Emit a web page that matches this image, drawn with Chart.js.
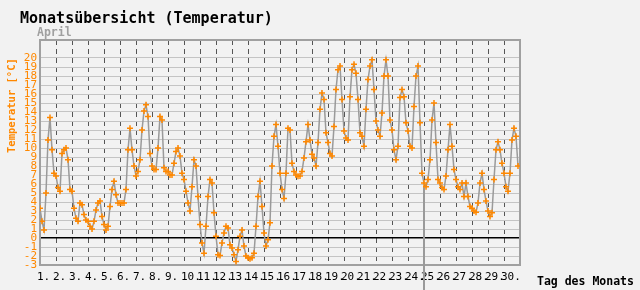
<!DOCTYPE html>
<html lang="de">
<head>
<meta charset="utf-8">
<title>Monatsübersicht (Temperatur)</title>
<script src="https://cdn.jsdelivr.net/npm/chart.js@4"></script>
<style>
  html, body { margin: 0; padding: 0; background: #f2f2f2; }
  canvas { display: block; }
</style>
</head>
<body>
<canvas id="chart" width="640" height="290"></canvas>
<script>
// Monatsübersicht Temperatur — Tagesgang für April, 8 Messwerte pro Tag (alle 3 h)

const TITLE = "Monatsübersicht (Temperatur)";
const MONTH = "April";
const Y_TITLE = "Temperatur [°C]";
const X_TITLE = "Tag des Monats";

const days = [1, 2, 3, 4, 5, 6, 7, 8, 9, 10, 11, 12, 13, 14, 15,
              16, 17, 18, 19, 20, 21, 22, 23, 24, 25, 26, 27, 28, 29, 30];
const dayLabels = days.map(d => d + ".");
const yLabels = [-3, -2, -1, 0, 1, 2, 3, 4, 5, 6, 7, 8, 9, 10,
                 11, 12, 13, 14, 15, 16, 17, 18, 19, 20];

const SAMPLES_PER_DAY = 8;
// °C, je Zeile ein Tag (0h, 3h, 6h, ... 21h)
const temps = [
  3.3, 1.85, 0.9, 5.0, 10.9, 13.4, 9.8, 7.2,      // 1.
  6.9, 5.6, 5.2, 9.4, 9.8, 10.0, 8.7, 5.4,        // 2.
  5.2, 3.3, 2.2, 1.85, 3.9, 3.7, 2.6, 2.0,        // 3.
  1.85, 1.3, 1.0, 1.85, 3.1, 3.9, 4.1, 2.4,       // 4.
  1.5, 0.9, 1.3, 3.5, 5.4, 6.3, 4.8, 3.9,         // 5.
  3.9, 3.9, 3.9, 5.4, 9.8, 12.2, 9.8, 8.0,        // 6.
  6.9, 7.4, 8.7, 12.0, 14.1, 14.8, 13.5, 9.4,     // 7.
  8.0, 7.6, 7.6, 10.0, 13.5, 13.1, 7.8, 7.4,      // 8.
  7.4, 7.0, 7.0, 8.3, 9.6, 10.0, 9.1, 7.2,        // 9.
  6.5, 5.2, 3.9, 3.0, 5.7, 8.7, 8.0, 4.6,         // 10.
  1.5, -0.55, -1.7, 1.3, 4.6, 6.5, 6.1, 2.8,      // 11.
  0.2, -1.85, -1.95, -0.55, 0.55, 1.3, 1.1, -0.75, // 12.
  -1.1, -1.85, -2.6, -1.3, 0.2, 0.9, -0.9, -2.0,  // 13.
  -2.2, -2.3, -2.2, -1.7, 1.3, 4.6, 6.3, 3.5,     // 14.
  0.55, -0.9, -0.2, 1.7, 8.0, 11.3, 12.6, 10.2,   // 15.
  7.2, 5.4, 4.4, 7.2, 12.2, 12.0, 8.3, 7.4,       // 16.
  7.0, 6.85, 6.9, 7.4, 8.9, 10.7, 12.6, 10.9,     // 17.
  9.3, 8.9, 8.0, 10.6, 14.3, 16.1, 15.4, 11.7,    // 18.
  10.6, 9.4, 9.1, 12.4, 16.5, 18.7, 19.1, 15.4,   // 19.
  11.9, 11.1, 10.9, 15.7, 18.7, 19.3, 18.3, 15.4, // 20.
  11.7, 11.3, 10.2, 14.3, 17.6, 19.1, 19.8, 16.5, // 21.
  13.0, 12.0, 11.3, 13.9, 18.0, 19.8, 18.0, 13.1, // 22.
  12.0, 9.8, 8.7, 10.2, 15.6, 16.5, 15.7, 12.8,   // 23.
  11.9, 10.2, 10.0, 14.6, 18.0, 19.1, 12.8, 7.2,  // 24.
  6.1, 5.7, 6.5, 8.7, 13.1, 15.0, 10.6, 6.5,      // 25.
  6.1, 5.6, 5.4, 6.9, 9.8, 12.6, 10.2, 7.6,       // 26.
  6.5, 5.7, 5.4, 6.1, 4.6, 6.1, 4.6, 3.5,         // 27.
  3.3, 3.0, 2.85, 3.9, 6.1, 7.2, 5.4, 4.1,        // 28.
  3.0, 2.4, 2.8, 6.5, 9.8, 10.7, 9.8, 8.3,        // 29.
  7.2, 5.7, 5.2, 7.2, 10.9, 12.2, 11.3, 8.0,      // 30.
];

// senkrechte Markierung am 25.
const markerDay = 25;
const markerTemps = [5.8, -6];

const ORANGE = "#ff8800";
const MONO = "'DejaVu Sans Mono', 'Liberation Mono', monospace";

const tempPoints = temps.map((t, i) => ({ x: days[0] + i / SAMPLES_PER_DAY, y: t }));
const markerPoints = markerTemps.map(t => ({ x: markerDay, y: t }));

// Rahmen um die Zeichenfläche
const frame = {
  id: "frame",
  beforeDatasetsDraw(chart) {
    const { ctx, chartArea: a } = chart;
    ctx.save();
    ctx.strokeStyle = "#a0a0a0";
    ctx.lineWidth = 2;
    ctx.strokeRect(a.left, a.top, a.right - a.left, a.bottom - a.top);
    ctx.restore();
  },
};

// Überschriften und Achsentitel
const headings = {
  id: "headings",
  afterDraw(chart) {
    const ctx = chart.ctx;
    ctx.save();
    ctx.textAlign = "left";
    ctx.textBaseline = "alphabetic";
    ctx.fillStyle = "#000";
    ctx.font = "bold 15px " + MONO;
    ctx.fillText(TITLE, 20, 23);
    ctx.fillStyle = "#a0a0a0";
    ctx.font = "bold 11.5px " + MONO;
    ctx.fillText(MONTH, 37, 36);
    ctx.fillStyle = "#000";
    ctx.fillText(X_TITLE, 537, 285);
    ctx.translate(15, 153);
    ctx.rotate(-Math.PI / 2);
    ctx.fillStyle = ORANGE;
    ctx.font = "bold 10.5px " + MONO;
    ctx.fillText(Y_TITLE, 0, 0);
    ctx.restore();
  },
};

new Chart(document.getElementById("chart"), {
  type: "line",
  data: {
    datasets: [
      {
        data: tempPoints,
        borderColor: "#9a9a9a",
        borderWidth: 1.5,
        pointStyle: "cross",
        pointRadius: 3,
        pointBorderColor: ORANGE,
        pointBorderWidth: 1.5,
        tension: 0,
      },
      {
        data: markerPoints,
        borderColor: "#9a9a9a",
        borderWidth: 2,
        pointRadius: 0,
        clip: false,
      },
    ],
  },
  options: {
    responsive: false,
    animation: false,
    events: [],
    layout: { padding: { left: 0, top: 40, right: 120, bottom: 0 } },
    plugins: { legend: { display: false }, tooltip: { enabled: false }, title: { display: false } },
    scales: {
      x: {
        type: "linear",
        min: days[0],
        max: days[days.length - 1] + 1,
        afterFit: s => { s.height = 25; },
        border: { display: false, dash: [5, 4] },
        grid: {
          drawTicks: false,
          lineWidth: 1,
          color: c => (c.tick.value <= days[0] || c.tick.value > days[days.length - 1]) ? "transparent" : "#555555",
        },
        ticks: {
          stepSize: 1,
          autoSkip: false,
          maxRotation: 0,
          align: "start",
          labelOffset: -3,
          padding: 6,
          color: "#000",
          font: { family: MONO, size: 11 },
          callback: v => dayLabels[v - 1] ?? "",
        },
      },
      y: {
        min: -3,
        max: 22,
        afterFit: s => { s.width = 40; },
        border: { display: false },
        grid: {
          drawTicks: false,
          color: c => c.tick.value === 0 ? "#000000" : (yLabels.includes(c.tick.value) ? "#c4c4c4" : "transparent"),
          lineWidth: c => c.tick.value === 0 ? 1.5 : 1,
        },
        ticks: {
          stepSize: 1,
          autoSkip: false,
          padding: 3,
          color: ORANGE,
          font: { family: MONO, size: 11 },
          callback: v => yLabels.includes(v) ? String(v) : "",
        },
      },
    },
  },
  plugins: [frame, headings],
});
</script>
</body>
</html>
